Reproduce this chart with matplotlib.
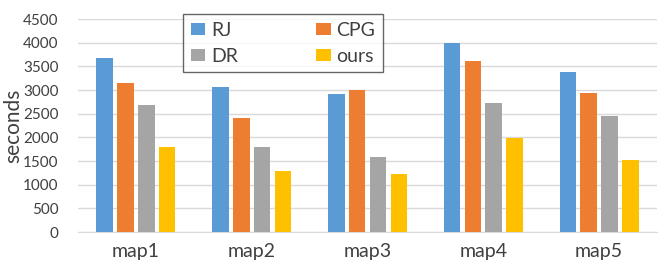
import matplotlib.pyplot as plt
import numpy as np

plt.rcParams['font.family'] = ['Lato', 'DejaVu Sans']

maps = ['map1', 'map2', 'map3', 'map4', 'map5']
rj = [3670, 3070, 2920, 4000, 3380]
cpg = [3150, 2410, 3010, 3610, 2930]
dr = [2680, 1800, 1580, 2730, 2460]
ours = [1790, 1300, 1230, 1980, 1520]

series = [('RJ', rj, '#5B9BD5'), ('CPG', cpg, '#ED7D31'),
          ('DR', dr, '#A5A5A5'), ('ours', ours, '#FFC000')]

fig = plt.figure(figsize=(6.61, 2.61), dpi=100)
ax = fig.add_axes([0.118, 0.111, 0.876, 0.816])

x = np.arange(len(maps))
pitch = 0.18
width = 0.143
bars = {}
for i, (name, vals, color) in enumerate(series):
    bars[name] = ax.bar(x + (i - 1.5) * pitch, vals, width, color=color,
                        label=name, zorder=3)

ax.set_xlim(-0.5, 4.5)
ax.set_ylim(0, 4500)
ax.set_yticks(range(0, 4501, 500))
ax.set_xticks(x)
ax.set_xticklabels(maps, fontsize=14, color='#404040')
ax.tick_params(axis='y', labelsize=11, labelcolor='#404040', length=0, pad=14)
ax.tick_params(axis='x', length=0, pad=8)
ax.grid(axis='y', color='#d9d9d9', linewidth=1, zorder=0)
for s in ['top', 'right', 'left']:
    ax.spines[s].set_visible(False)
ax.spines['bottom'].set_color('#d9d9d9')
ax.set_ylabel('seconds', fontsize=15, color='#404040', labelpad=0)

handles = [bars['RJ'], bars['DR'], bars['CPG'], bars['ours']]
labels = ['RJ', 'DR', 'CPG', 'ours']
leg = fig.legend(handles, labels, ncol=2, loc='upper left',
                 bbox_to_anchor=(0.277, 0.946), bbox_transform=fig.transFigure,
                 fontsize=14, frameon=True, fancybox=False, borderaxespad=0,
                 handlelength=0.75, handleheight=0.6, handletextpad=0.3,
                 columnspacing=4.0, labelspacing=0.45, borderpad=0.4)
leg.get_frame().set_edgecolor('#404040')
leg.get_frame().set_linewidth(1)
for t in leg.get_texts():
    t.set_color('#404040')

fig.savefig('out.png', dpi=100)
